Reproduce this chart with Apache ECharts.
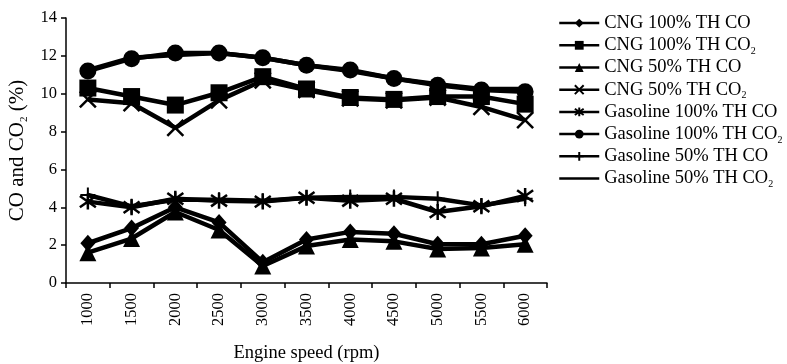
<!DOCTYPE html>
<html>
<head>
<meta charset="utf-8">
<script src="https://cdn.jsdelivr.net/npm/echarts@6/dist/echarts.min.js"></script>
<style>html,body{margin:0;padding:0;background:#fff;}#c{width:787px;height:364px;}</style>
</head>
<body>
<div id="c"></div>
<script>
const categories = ['1000','1500','2000','2500','3000','3500','4000','4500','5000','5500','6000'];
const yTicks = [0, 2, 4, 6, 8, 10, 12, 14];
const seriesNames = ['CNG 100% TH CO','CNG 100% TH CO2','CNG 50% TH CO','CNG 50% TH CO2','Gasoline 100% TH CO','Gasoline 100% TH CO2','Gasoline 50% TH CO','Gasoline 50% TH CO2'];
const cng100CO  = [2.1, 2.9, 4.0, 3.2, 1.1, 2.3, 2.7, 2.6, 2.05, 2.05, 2.5];
const cng100CO2 = [10.3, 9.85, 9.4, 10.05, 10.9, 10.25, 9.8, 9.7, 9.85, 9.85, 9.45];
const cng50CO   = [1.6, 2.35, 3.75, 2.8, 0.9, 1.95, 2.3, 2.2, 1.8, 1.85, 2.05];
const cng50CO2  = [9.7, 9.5, 8.2, 9.65, 10.7, 10.2, 9.75, 9.65, 9.8, 9.3, 8.6];
const gas100CO  = [4.3, 4.0, 4.45, 4.35, 4.3, 4.5, 4.35, 4.45, 3.75, 4.05, 4.6];
const gas100CO2 = [11.2, 11.85, 12.15, 12.15, 11.9, 11.5, 11.25, 10.8, 10.45, 10.2, 10.1];
const gas50CO   = [4.65, 4.05, 4.4, 4.4, 4.35, 4.5, 4.55, 4.55, 4.45, 4.1, 4.45];
const gas50CO2  = [11.25, 11.9, 12.05, 12.15, 11.9, 11.5, 11.2, 10.8, 10.5, 10.25, 10.25];

const FONT = '"Liberation Serif", "Times New Roman", serif';
const dataList = [cng100CO, cng100CO2, cng50CO, cng50CO2, gas100CO, gas100CO2, gas50CO, gas50CO2];
const symbols = [
  {symbol: 'diamond', size: [15, 17], bw: 0, show: true},
  {symbol: 'rect', size: 17, bw: 0, show: true},
  {symbol: 'triangle', size: 17, bw: 0, show: true},
  {symbol: 'path://M0,0L10,10M0,10L10,0', size: 16, bw: 2.5, show: true},
  {symbol: 'path://M0,0L10,10M0,10L10,0M5,-2L5,12', size: 16, bw: 2.5, show: true},
  {symbol: 'circle', size: 17, bw: 0, show: true},
  {symbol: 'path://M5,0L5,10M0,5L10,5', size: 15, bw: 2, show: true},
  {symbol: 'circle', size: 1, bw: 0, show: false}
];

const series = seriesNames.map((name, i) => ({
  name: name,
  type: 'line',
  data: dataList[i],
  symbol: symbols[i].symbol,
  symbolSize: symbols[i].size,
  showSymbol: symbols[i].show,
  lineStyle: {color: '#000', width: 4.5},
  itemStyle: {color: '#000', borderColor: '#000', borderWidth: symbols[i].bw},
  animation: false
}));

const legendData = seriesNames.map((name, i) => symbols[i].show ? name :
  {name: name, itemStyle: {color: 'rgba(0,0,0,0)', borderColor: 'rgba(0,0,0,0)', borderWidth: 0}});

const chart = echarts.init(document.getElementById('c'));
chart.setOption({
  backgroundColor: '#fff',
  animation: false,
  grid: {left: 66, right: 240, top: 18, bottom: 81, containLabel: false, outerBoundsMode: 'none'},
  legend: {
    orient: 'vertical',
    left: 553,
    top: 7,
    itemGap: 0,
    itemWidth: 40,
    itemHeight: 11,
    data: legendData,
    lineStyle: {width: 2.5},
    formatter: function (n) { return n.endsWith('CO2') ? n.slice(0, -1) + '{s|2}' : n; },
    textStyle: {
      fontFamily: FONT, fontSize: 18.5, color: '#000', lineHeight: 22.2,
      rich: {s: {fontFamily: FONT, fontSize: 10, lineHeight: 11, verticalAlign: 'bottom', color: '#000'}}
    }
  },
  xAxis: {
    type: 'category',
    data: categories,
    boundaryGap: true,
    name: 'Engine speed (rpm)',
    nameLocation: 'middle',
    nameGap: 61,
    nameTextStyle: {fontFamily: FONT, fontSize: 18.5, color: '#000'},
    axisLine: {lineStyle: {color: '#000', width: 1.5}},
    axisTick: {show: true, interval: 0, length: 5, lineStyle: {color: '#000', width: 1.5}},
    axisLabel: {rotate: 90, interval: 0, margin: 10, fontFamily: FONT, fontSize: 16.5, color: '#000'},
    splitLine: {show: false}
  },
  yAxis: {
    type: 'value',
    min: yTicks[0],
    max: yTicks[yTicks.length - 1],
    interval: 2,
    name: '{a|CO and CO}{s|2}{a| (%)}',
    nameLocation: 'middle',
    nameGap: 27,
    nameTextStyle: {
      fontFamily: FONT, fontSize: 21, color: '#000',
      rich: {
        a: {fontFamily: FONT, fontSize: 21, lineHeight: 24, color: '#000'},
        s: {fontFamily: FONT, fontSize: 11, lineHeight: 12, verticalAlign: 'bottom', color: '#000'}
      }
    },
    axisLine: {show: true, lineStyle: {color: '#000', width: 1.5}},
    axisTick: {show: true, length: 5, lineStyle: {color: '#000', width: 1.5}},
    axisLabel: {margin: 9, fontFamily: FONT, fontSize: 16.5, color: '#000'},
    splitLine: {show: false}
  },
  series: series
});
</script>
</body>
</html>
